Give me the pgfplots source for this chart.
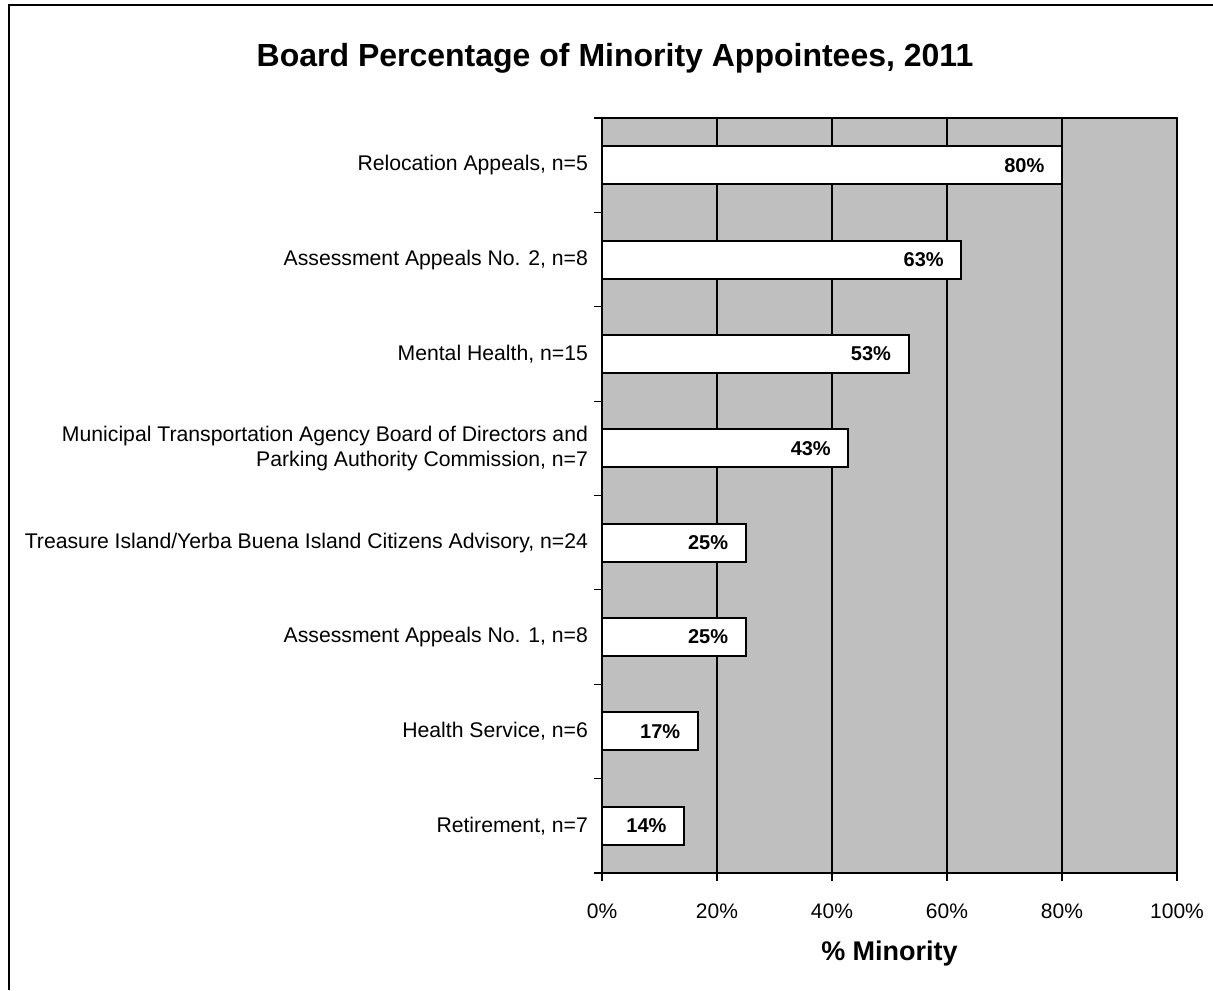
\documentclass[border=0pt]{standalone}
\usepackage{fontspec}
\setmainfont{Liberation Sans}
\usepackage{pgfplots}
\pgfplotsset{compat=1.18}
\begin{document}
\begin{tikzpicture}[x=1pt,y=1pt]
\path[use as bounding box] (0,0) rectangle (606.5,495);
\draw[line width=0.8pt] (4.5,0) -- (4.5,492.5) -- (606.5,492.5);
\node[font=\fontsize{16}{18}\selectfont\bfseries] at (307.5,466) {Board Percentage of Minority Appointees, 2011};
\begin{axis}[
  at={(301pt,58.5pt)}, anchor=south west,
  scale only axis, width=287.5pt, height=377.5pt,
  xbar, bar width=19pt,
  xmin=0, xmax=100, ymin=-0.5, ymax=7.5,
  axis background/.style={fill=black!25},
  axis line style={line width=0.8pt},
  xtick={0,20,40,60,80,100},
  xticklabel={\pgfmathprintnumber{\tick}\%},
  /pgf/number format/assume math mode=true,
  tick align=outside,
  xtick pos=lower, ytick pos=left,
  major tick length=4pt,
  xmajorgrids, major grid style={black, line width=0.6pt},
  ytick={0,...,7},
  major y tick style={draw=none},
  minor ytick={-0.5,0.5,...,7.5},
  minor tick length=4pt,
  minor y tick style={draw=black, line width=0.6pt},
  xtick style={black, line width=0.6pt},
  yticklabels={{Retirement, n=7},{Health Service, n=6},{Assessment Appeals No. 1, n=8},{Treasure Island/Yerba Buena Island Citizens Advisory, n=24},{Municipal Transportation Agency Board of Directors and\\Parking Authority Commission, n=7},{Mental Health, n=15},{Assessment Appeals No. 2, n=8},{Relocation Appeals, n=5}},
  yticklabel style={align=right, font=\fontsize{10.6}{12.5}\selectfont, xshift=0.5pt},
  xticklabel style={font=\fontsize{10.5}{12}\selectfont, yshift=-8pt},
  xlabel={\% Minority},
  xlabel style={font=\fontsize{13.5}{15}\selectfont\bfseries, yshift=-4pt},
  nodes near coords={\bfseries\pgfmathprintnumber[fixed,precision=0]{\pgfplotspointmeta}\%},
  nodes near coords style={anchor=east, xshift=-5pt, font=\fontsize{10}{12}\selectfont},
  point meta=x,
]
\addplot[fill=white, draw=black, line width=1pt] coordinates {
(14.29,0) (16.67,1) (25,2) (25,3) (42.86,4) (53.33,5) (62.5,6) (80,7)};
\end{axis}
\end{tikzpicture}
\end{document}
